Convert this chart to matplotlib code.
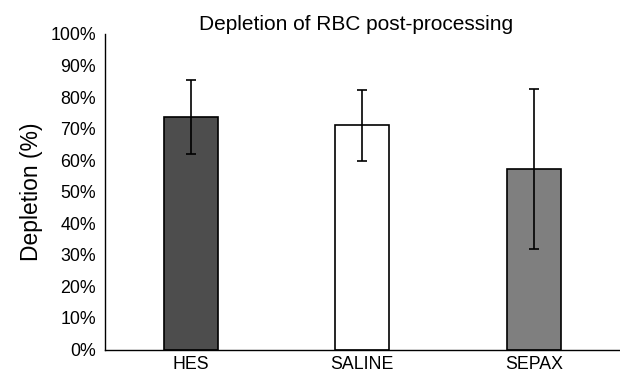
import matplotlib
matplotlib.use("Agg")
import matplotlib.pyplot as plt
from matplotlib.ticker import FuncFormatter, MultipleLocator

categories = ["HES", "SALINE", "SEPAX"]
depletion = [73.8, 71.2, 57.2]
err_low = [62.0, 59.8, 31.8]
err_high = [85.4, 82.3, 82.5]
colors = ["#4d4d4d", "#ffffff", "#7f7f7f"]

plt.rcParams['font.family'] = ['Liberation Sans', 'DejaVu Sans']

fig = plt.figure(figsize=(6.2, 3.73), dpi=100)
ax = fig.add_axes([0.169, 0.063, 0.831, 0.846])

x = list(range(len(categories)))
yerr = [[d - lo for d, lo in zip(depletion, err_low)],
        [hi - d for d, hi in zip(depletion, err_high)]]
ax.bar(x, depletion, width=0.315, color=colors, edgecolor="black", linewidth=1.2, zorder=2)
ax.errorbar(x, depletion, yerr=yerr, fmt="none", ecolor="black", elinewidth=1.2,
            capsize=3.3, capthick=1.2, zorder=3)

ax.set_xlim(-0.5, 2.5)
ax.set_ylim(0, 100)
ax.yaxis.set_major_locator(MultipleLocator(10))
ax.yaxis.set_major_formatter(FuncFormatter(lambda v, p: f"{int(round(v))}%"))
ax.set_xticks(x)
ax.set_xticklabels(categories)
ax.tick_params(axis="both", length=0, labelsize=12.8, colors="black")
ax.tick_params(axis="x", pad=5)
ax.tick_params(axis="y", pad=6.5)
for s in ["top", "right"]:
    ax.spines[s].set_visible(False)
for s in ["left", "bottom"]:
    ax.spines[s].set_linewidth(1.0)
ax.set_ylabel("Depletion (%)", fontsize=16.5, labelpad=5)
ax.set_title("Depletion of RBC post-processing", fontsize=15, pad=3, x=0.487)

fig.savefig("out.png", dpi=100)
